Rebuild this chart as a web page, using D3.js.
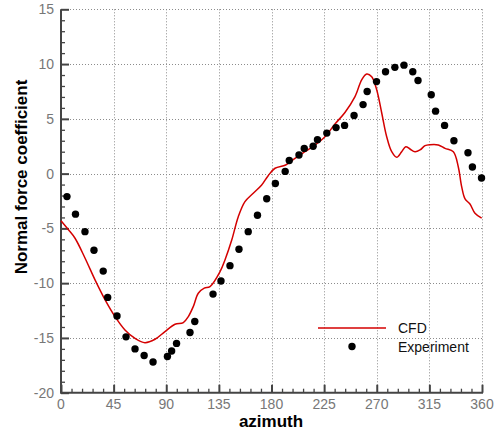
<!DOCTYPE html>
<html>
<head>
<meta charset="utf-8">
<script src="https://cdn.jsdelivr.net/npm/d3@7"></script>
<style>
	body{ margin:0; background:#fff; }
	svg{ display:block; font-family:"Liberation Sans", Arial, sans-serif; }
</style>
</head>
<body>
<div id="chart"></div>
<script>
// experiment points (azimuth, Cn)
var expAz = [5.1, 12.4, 20.5, 28.2, 36.1, 39.9, 47.9, 55.6, 63.3, 71.1, 78.7, 91.0, 94.6, 98.8, 110.3, 114.4,
	130.0, 136.8, 144.5, 152.2, 160.1, 168.0, 175.9, 183.3, 191.7, 195.2, 203.5, 208.0, 215.6, 219.3, 227.3, 235.2,
	242.5, 250.6, 258.3, 261.8, 269.8, 277.5, 285.5, 293.3, 300.8, 305.3, 316.6, 320.3, 328.0, 336.0, 348.0, 351.8, 359.6];
var expCn = [-2.1, -3.7, -5.3, -7.0, -8.9, -11.3, -13.0, -14.9, -16.0, -16.6, -17.2, -16.7, -16.2, -15.5, -14.5, -13.5,
	-11.0, -9.8, -8.4, -6.9, -5.3, -3.8, -2.3, -0.9, 0.2, 1.2, 1.7, 2.3, 2.5, 3.1, 3.7, 4.2,
	4.4, 5.3, 6.3, 7.5, 8.4, 9.3, 9.7, 9.9, 9.3, 8.5, 7.2, 5.7, 4.4, 3.0, 1.9, 0.6, -0.4];
// CFD curve
var cfdAz = [0, 6.2, 12.0, 20.5, 29.1, 37.6, 46.2, 54.7, 63.3, 71.8, 80.4, 88.9, 97.5, 104.6, 108.9, 113.1, 117.4,
	122.5, 127.4, 136.0, 140.2, 146.0, 151.6, 157.3, 164.4, 171.6, 177.0, 183.0, 192.1, 200.1, 208.6, 217.2, 225.7,
	234.3, 242.8, 251.4, 257.1, 261.4, 265.7, 270.0, 274.3, 278.5, 282.8, 287.1, 291.3, 294.8, 298.4, 302.7, 307.0,
	311.3, 315.5, 322.6, 328.4, 335.5, 339.7, 342.6, 345.5, 349.7, 354.0, 359.7];
var cfdCn = [-4.3, -5.1, -5.9, -7.7, -9.7, -11.5, -13.05, -14.27, -15.04, -15.43, -15.12, -14.42, -13.75, -13.6, -13.05, -12.14, -10.92,
	-10.46, -10.32, -8.95, -7.88, -6.06, -3.93, -2.56, -1.79, -1.04, -0.21, 0.49, 0.79, 1.4, 2.0, 2.61, 3.37,
	4.53, 5.58, 7.02, 8.55, 9.1, 8.85, 7.63, 5.51, 3.37, 2.0, 1.49, 2.0, 2.46, 2.25, 2.0, 2.16,
	2.55, 2.64, 2.62, 2.31, 2.0, 0.63, -1.19, -2.31, -2.77, -3.62, -4.07];
var xTicks = [0, 45, 90, 135, 180, 225, 270, 315, 360];
var yTicks = [-20, -15, -10, -5, 0, 5, 10, 15];

;(function(d3){
	var width = 495, height = 435,
		pL = 61, pR = 482, pT = 9.3, pB = 392.7;

	var svg = d3.select("#chart").append("svg")
		.attr("width", width)
		.attr("height", height);

	var x = d3.scaleLinear().domain([0, 360]).range([pL, pR]);
	var y = d3.scaleLinear().domain([-20, 15]).range([pB, pT]);

	// grid
	var grid = svg.append("g").attr("class", "grid")
		.attr("stroke", "#8c8c8c")
		.attr("stroke-width", 1)
		.attr("stroke-dasharray", "1,2");
	grid.selectAll(".gx").data(xTicks.slice(1)).enter().append("line")
		.attr("x1", function(d){ return Math.round(x(d)) + 0.5; })
		.attr("x2", function(d){ return Math.round(x(d)) + 0.5; })
		.attr("y1", pT).attr("y2", pB);
	grid.selectAll(".gy").data(yTicks.slice(1)).enter().append("line")
		.attr("y1", function(d){ return Math.round(y(d)) + 0.5; })
		.attr("y2", function(d){ return Math.round(y(d)) + 0.5; })
		.attr("x1", pL).attr("x2", pR);

	// axes (ticks inside)
	var xAxis = d3.axisBottom(x).tickValues(d3.range(0, 361, 9)).tickSize(-4).tickFormat("");
	var yAxis = d3.axisLeft(y).tickValues(d3.range(-20, 16, 1)).tickSize(-4).tickFormat("");

	var gx = svg.append("g").attr("transform", "translate(0," + pB + ")").call(xAxis);
	var gy = svg.append("g").attr("transform", "translate(" + pL + ",0)").call(yAxis);
	[gx, gy].forEach(function(g){
		g.select(".domain").remove();
		g.selectAll(".tick line").attr("stroke", "#444").attr("stroke-width", 1.3);
	});
	gx.selectAll(".tick line").filter(function(d){ return d % 45 === 0; }).attr("y2", -8).attr("stroke-width", 2);
	gy.selectAll(".tick line").filter(function(d){ return d % 5 === 0; }).attr("x2", 8).attr("stroke-width", 2);

	svg.append("line").attr("x1", pL - 1).attr("x2", pR + 1).attr("y1", pB).attr("y2", pB)
		.attr("stroke", "#444").attr("stroke-width", 2);
	svg.append("line").attr("x1", pL).attr("x2", pL).attr("y1", pT).attr("y2", pB)
		.attr("stroke", "#444").attr("stroke-width", 2);

	// tick labels
	svg.append("g").selectAll("text").data(xTicks).enter().append("text")
		.attr("x", function(d){ return x(d); })
		.attr("y", 409)
		.attr("text-anchor", "middle")
		.attr("font-size", 14)
		.attr("fill", "#777")
		.text(function(d){ return d; });
	svg.append("g").selectAll("text").data(yTicks).enter().append("text")
		.attr("x", 54)
		.attr("y", function(d){ return y(d) + 5; })
		.attr("text-anchor", "end")
		.attr("font-size", 14)
		.attr("fill", "#777")
		.text(function(d){ return d; });

	// axis titles
	svg.append("text")
		.attr("x", 271).attr("y", 427)
		.attr("text-anchor", "middle")
		.attr("font-size", 17).attr("font-weight", "bold")
		.text("azimuth");
	svg.append("text")
		.attr("transform", "translate(27,177) rotate(-90)")
		.attr("text-anchor", "middle")
		.attr("font-size", 17).attr("font-weight", "bold")
		.text("Normal force coefficient");

	// CFD line
	var cfd = cfdAz.map(function(a, i){ return [a, cfdCn[i]]; });
	var line = d3.line()
		.x(function(d){ return x(d[0]); })
		.y(function(d){ return y(d[1]); })
		.curve(d3.curveCatmullRom);
	svg.append("path")
		.datum(cfd)
		.attr("d", line)
		.attr("fill", "none")
		.attr("stroke", "#d40000")
		.attr("stroke-width", 1.5);

	// experiment dots
	var exp = expAz.map(function(a, i){ return [a, expCn[i]]; });
	svg.append("g").selectAll("circle").data(exp).enter().append("circle")
		.attr("cx", function(d){ return x(d[0]); })
		.attr("cy", function(d){ return y(d[1]); })
		.attr("r", 3.7)
		.attr("fill", "#000");

	// legend
	var lg = svg.append("g");
	lg.append("line").attr("x1", 318).attr("x2", 386).attr("y1", 328).attr("y2", 328)
		.attr("stroke", "#d40000").attr("stroke-width", 1.5);
	lg.append("text").attr("x", 398).attr("y", 333).attr("font-size", 14).attr("fill", "#111").text("CFD");
	lg.append("circle").attr("cx", 352).attr("cy", 346.5).attr("r", 3.7).attr("fill", "#000");
	lg.append("text").attr("x", 398).attr("y", 352).attr("font-size", 14).attr("fill", "#111").text("Experiment");
})(d3);
</script>
</body>
</html>
